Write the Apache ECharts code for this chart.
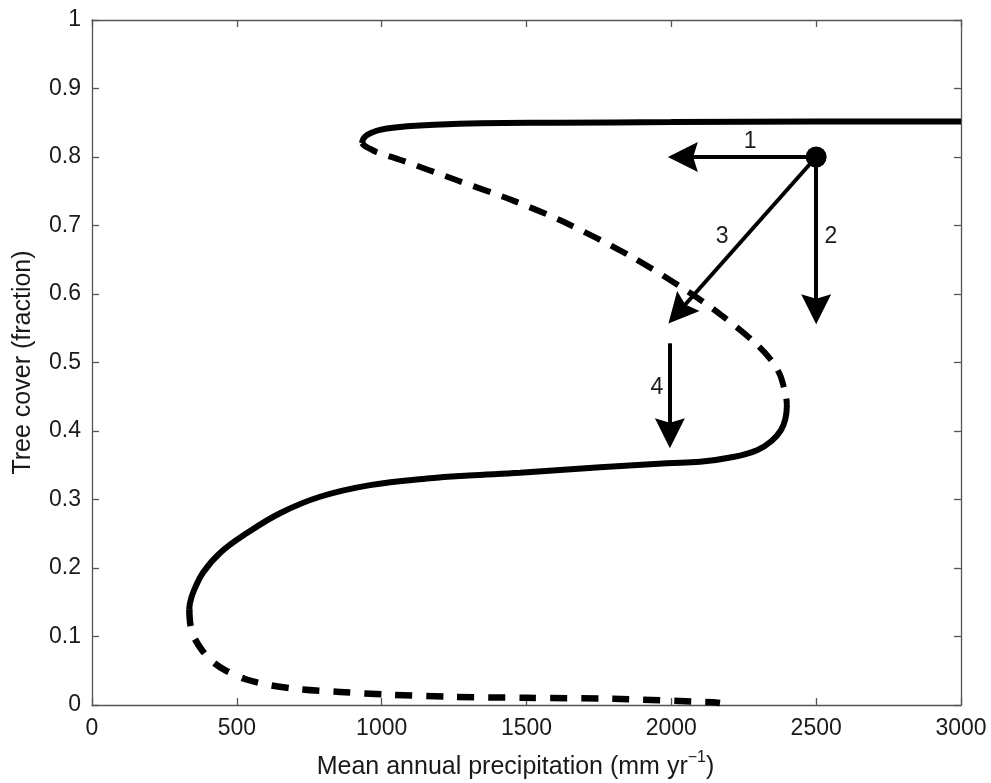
<!DOCTYPE html>
<html>
<head>
<meta charset="utf-8">
<title>Tree cover vs precipitation</title>
<script src="https://cdn.jsdelivr.net/npm/echarts@6/dist/echarts.min.js"></script>
<style>
  html, body { margin: 0; padding: 0; background: #fff; }
  #chart { width: 991px; height: 783px; }
</style>
</head>
<body>
<div id="chart"></div>
<script>
// branches of the equilibrium curve, [precipitation, tree cover]
const upperStable = [
  [3000, 0.852], [2500, 0.852], [2000, 0.851], [1600, 0.850], [1305, 0.849],
  [1132, 0.846], [1046, 0.843], [994, 0.8395], [963, 0.835], [946, 0.831],
  [936, 0.826], [932, 0.8204]
];
const middleUnstable = [
  [932, 0.8204], [942, 0.816], [960, 0.812], [984, 0.807], [1063, 0.796],
  [1260, 0.766], [1450, 0.737], [1630, 0.705], [1860, 0.655], [2060, 0.603],
  [2170, 0.570], [2278, 0.533], [2344, 0.504], [2375, 0.482], [2389, 0.463],
  [2396, 0.451], [2399, 0.438]
];
const lowerStable = [
  [2399, 0.438], [2394, 0.418], [2378, 0.401], [2345, 0.385], [2296, 0.372],
  [2213, 0.362], [2099, 0.355], [1985, 0.353], [1754, 0.347], [1478, 0.339],
  [1300, 0.335], [1167, 0.331], [960, 0.321], [787, 0.304], [649, 0.280],
  [535, 0.251], [442, 0.222], [383, 0.193], [349, 0.164], [338, 0.148],
  [336, 0.140]
];
const lowerUnstable = [
  [336, 0.140], [337, 0.128], [341, 0.114], [352, 0.099], [380, 0.080],
  [414, 0.064], [459, 0.051], [528, 0.038], [614, 0.029], [718, 0.023],
  [856, 0.019], [1029, 0.015], [1236, 0.012], [1500, 0.0105], [1799, 0.009],
  [2144, 0.004], [2168, 0.003]
];

// current state and the four perturbation arrows (end = arrow tip)
const statePoint = [2500, 0.80];
const arrowStarts = [[2500, 0.80], [2500, 0.80], [2500, 0.80], [1995, 0.528]];
const arrowEnds = [[1988, 0.80], [2500, 0.556], [1990, 0.557], [1995, 0.375]];
const arrowLabels = ['1', '2', '3', '4'];
const arrowLabelPos = [[2272, 0.823], [2551, 0.683], [2175, 0.683], [1950, 0.464]];

const xTicks = { min: 0, max: 3000, interval: 500 };
const yTicks = { min: 0, max: 1, interval: 0.1 };

const font = "'Liberation Sans', Arial, sans-serif";
const axisColor = '#555';
const textColor = '#1a1a1a';
const headLength = 30;

const chart = echarts.init(document.getElementById('chart'));

const baseAxis = {
  axisLine: { show: true, onZero: false, lineStyle: { color: axisColor, width: 1.3 } },
  axisTick: { show: true, inside: true, length: 7, lineStyle: { color: axisColor, width: 1.3 } },
  splitLine: { show: false },
};

chart.setOption({
  animation: false,
  backgroundColor: '#fff',
  grid: { left: 92, right: 30, top: 20, bottom: 78, outerBoundsMode: 'none', containLabel: false },
  xAxis: [
    {
      ...baseAxis,
      type: 'value',
      position: 'bottom',
      min: xTicks.min, max: xTicks.max, interval: xTicks.interval,
      axisLabel: { fontSize: 23, color: textColor, fontFamily: font, margin: 12, formatter: (v) => String(v) },
      name: '{n|Mean annual precipitation (mm yr}{sup|−1}{n|)}',
      nameLocation: 'middle',
      nameGap: 45,
      nameTextStyle: {
        fontFamily: font,
        color: textColor,
        padding: [0, 22, 0, 0],
        rich: {
          n: { fontSize: 25, fontFamily: font, color: textColor, lineHeight: 30, verticalAlign: 'bottom' },
          sup: { fontSize: 16, fontFamily: font, color: textColor, lineHeight: 30, verticalAlign: 'top' }
        }
      }
    },
    {
      ...baseAxis,
      type: 'value',
      position: 'top',
      min: xTicks.min, max: xTicks.max, interval: xTicks.interval,
      axisLabel: { show: false }
    }
  ],
  yAxis: [
    {
      ...baseAxis,
      type: 'value',
      position: 'left',
      min: yTicks.min, max: yTicks.max, interval: yTicks.interval,
      axisLabel: { fontSize: 23, color: textColor, fontFamily: font, margin: 11 },
      name: 'Tree cover (fraction)',
      nameLocation: 'middle',
      nameGap: 56,
      nameTextStyle: { fontSize: 25, color: textColor, fontFamily: font }
    },
    {
      ...baseAxis,
      type: 'value',
      position: 'right',
      min: yTicks.min, max: yTicks.max, interval: yTicks.interval,
      axisLabel: { show: false }
    }
  ],
  series: [
    {
      name: 'upper stable',
      type: 'line',
      data: upperStable,
      showSymbol: false,
      smooth: 0.3,
      lineStyle: { color: '#000', width: 6 }
    },
    {
      name: 'middle unstable',
      type: 'line',
      data: middleUnstable,
      showSymbol: false,
      smooth: 0.3,
      lineStyle: { color: '#000', width: 6, type: [18, 12], cap: 'butt' }
    },
    {
      name: 'lower stable',
      type: 'line',
      data: lowerStable,
      showSymbol: false,
      smooth: 0.4,
      lineStyle: { color: '#000', width: 6 }
    },
    {
      name: 'lower unstable',
      type: 'line',
      data: lowerUnstable,
      showSymbol: false,
      smooth: 0.3,
      lineStyle: { color: '#000', width: 6.5, type: [17, 14], cap: 'butt' }
    },
    {
      id: 'arrows',
      name: 'arrows',
      type: 'lines',
      coordinateSystem: 'cartesian2d',
      xAxisIndex: 0,
      yAxisIndex: 0,
      symbol: ['none', 'path://M0,0 L12,32 L0,27 L-12,32 Z'],
      symbolSize: [23, headLength],
      lineStyle: { color: '#000', width: 4, opacity: 1 },
      data: []
    },
    {
      name: 'state',
      type: 'scatter',
      data: [statePoint],
      symbolSize: 21,
      itemStyle: { color: '#000', opacity: 1 },
      z: 5
    },
    {
      name: 'labels',
      type: 'scatter',
      symbolSize: 0,
      itemStyle: { opacity: 1 },
      data: arrowLabelPos.map((p, i) => ({ value: p, name: arrowLabels[i] })),
      label: {
        show: true,
        position: 'inside',
        formatter: (p) => p.name,
        fontSize: 23,
        color: textColor,
        fontFamily: font
      }
    }
  ]
});

// the head symbol is centred on the line end, so pull the end back by half
// a head length so the tip lands on the arrow's end value
const finder = { xAxisIndex: 0, yAxisIndex: 0 };
const arrowData = arrowStarts.map((s, i) => {
  const p0 = chart.convertToPixel(finder, s);
  const p1 = chart.convertToPixel(finder, arrowEnds[i]);
  const dx = p1[0] - p0[0], dy = p1[1] - p0[1];
  const len = Math.sqrt(dx * dx + dy * dy);
  const back = headLength / 2;
  const mid = [p1[0] - dx / len * back, p1[1] - dy / len * back];
  return { coords: [s, chart.convertFromPixel(finder, mid)] };
});
chart.setOption({ series: [{ id: 'arrows', data: arrowData }] });
</script>
</body>
</html>
